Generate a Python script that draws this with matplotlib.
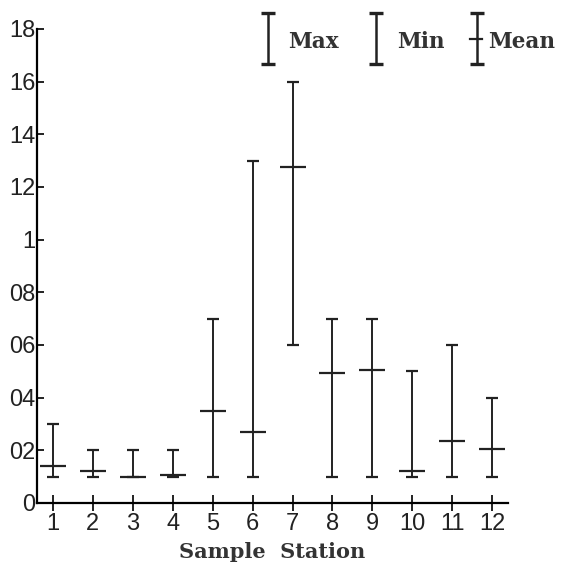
import matplotlib
matplotlib.use("Agg")
import matplotlib.pyplot as plt
from matplotlib.lines import Line2D
from matplotlib import font_manager

#-----------------------Data-----------------------#
stations = [1, 2, 3, 4, 5, 6, 7, 8, 9, 10, 11, 12]
max_vals = [0.30, 0.20, 0.20, 0.20, 0.70, 1.30, 1.60, 0.70, 0.70, 0.50, 0.60, 0.40]
min_vals = [0.10, 0.10, 0.10, 0.10, 0.10, 0.10, 0.60, 0.10, 0.10, 0.10, 0.10, 0.10]
mean_vals = [0.14, 0.12, 0.10, 0.107, 0.35, 0.27, 1.275, 0.495, 0.505, 0.12, 0.235, 0.205]

y_ticks = [0, 0.2, 0.4, 0.6, 0.8, 1.0, 1.2, 1.4, 1.6, 1.8]
y_labels = ["0", "02", "04", "06", "08", "1", "12", "14", "16", "18"]

# narrow sans for tick numbers if it's there
names = {f.name for f in font_manager.fontManager.ttflist}
tick_font = "Liberation Sans Narrow" if "Liberation Sans Narrow" in names else "Liberation Sans"
label_font = "DejaVu Serif"

#-----------------------Figure-----------------------#
fig = plt.figure(figsize=(5.69, 5.78), dpi=100)
ax = fig.add_axes([0.065, 0.13, 0.828, 0.82])

lower = [m - lo for m, lo in zip(mean_vals, min_vals)]
upper = [hi - m for m, hi in zip(mean_vals, max_vals)]

ax.errorbar(stations, mean_vals, yerr=[lower, upper], fmt="_", color="#222222",
            ecolor="#222222", elinewidth=1.4, capsize=4.5, capthick=2.2,
            markersize=19, markeredgewidth=1.6)

ax.set_xlim(0.6, 12.4)
ax.set_ylim(0, 1.8)
ax.spines["top"].set_visible(False)
ax.spines["right"].set_visible(False)
ax.spines["left"].set_linewidth(1.6)
ax.spines["bottom"].set_linewidth(1.6)

ax.set_xticks(stations)
ax.set_xticklabels([str(s) for s in stations], fontfamily=tick_font, fontsize=17)
ax.set_yticks(y_ticks)
ax.set_yticklabels(y_labels, fontfamily=tick_font, fontsize=17)
ax.tick_params(axis="x", direction="inout", length=12, width=1.4, pad=1, colors="#222222")
ax.tick_params(axis="y", direction="in", length=5, width=1.4, pad=1, colors="#222222")

ax.set_xlabel("Sample  Station", fontfamily=label_font, fontweight="bold", fontsize=15,
              labelpad=5, color="#333333")

# legend glyphs drawn by hand, like the original figure
leg_y0, leg_y1 = 1 - 64 / 578, 1 - 13 / 578
leg_items = [(268, 288, "Max"), (376, 397, "Min"), (477, 488, "Mean")]
for px, tx, txt in leg_items:
    x = px / 569
    fig.add_artist(Line2D([x, x], [leg_y0, leg_y1], color="#222222", lw=1.8,
                          marker="_", markersize=10, markeredgewidth=2.4,
                          transform=fig.transFigure))
    fig.text(tx / 569, 1 - 42 / 578, txt, fontfamily=label_font, fontweight="bold",
             fontsize=15.5, va="center", ha="left", color="#333333")
    if txt == "Mean":
        ym = (leg_y0 + leg_y1) / 2
        fig.add_artist(Line2D([x - 0.012, x + 0.008], [ym, ym], color="#222222",
                              lw=1.6, transform=fig.transFigure))

fig.savefig("out.png", dpi=100)
